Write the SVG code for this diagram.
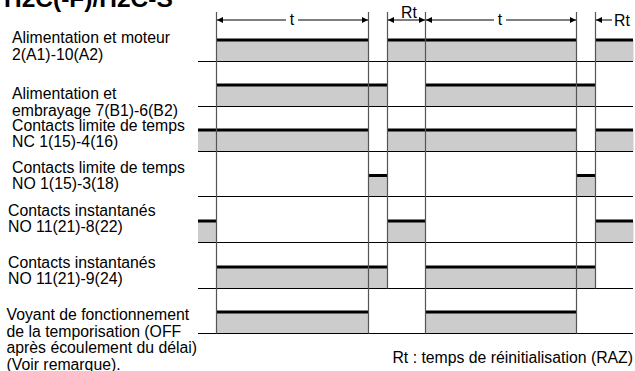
<svg xmlns="http://www.w3.org/2000/svg" width="635" height="371" viewBox="0 0 635 371">
<style>
text{font-family:"Liberation Sans",Arial,Helvetica,sans-serif;fill:#000}
.lbl{font-size:15.8px}
.title{font-size:24.5px;font-weight:bold}
.base{stroke:#000;stroke-width:1.2;fill:none}
.vl{stroke:#555;stroke-width:1.2;fill:none}
.hi{fill:#cccccc;stroke:none}
.top{stroke:#000;stroke-width:3;fill:none}
.dim{stroke:#000;stroke-width:1;fill:none}
</style>
<defs>
<marker id="ah" viewBox="0 0 10 10" refX="10" refY="5" markerWidth="9" markerHeight="6" markerUnits="userSpaceOnUse" orient="auto-start-reverse">
<path d="M0,0 L10,5 L0,10 z" fill="#000"/>
</marker>
</defs>
<rect width="635" height="371" fill="#fff"/>
<text class="title" x="4" y="7">H2C(-F)/H2C-S</text>

<g id="labels">
<g id="lbl1"><text class="lbl" x="12" y="43">Alimentation et moteur</text><text class="lbl" x="12" y="59.5">2(A1)-10(A2)</text></g>
<g id="lbl2"><text class="lbl" x="12" y="99">Alimentation et</text><text class="lbl" x="12" y="115.5">embrayage 7(B1)-6(B2)</text></g>
<g id="lbl3"><text class="lbl" x="12" y="131">Contacts limite de temps</text><text class="lbl" x="12" y="147">NC 1(15)-4(16)</text></g>
<g id="lbl4"><text class="lbl" x="12" y="172.5">Contacts limite de temps</text><text class="lbl" x="12" y="188.5">NO 1(15)-3(18)</text></g>
<g id="lbl5"><text class="lbl" x="8" y="216">Contacts instantanés</text><text class="lbl" x="8" y="232">NO 11(21)-8(22)</text></g>
<g id="lbl6"><text class="lbl" x="8" y="268">Contacts instantanés</text><text class="lbl" x="8" y="284">NO 11(21)-9(24)</text></g>
<g id="lbl7"><text class="lbl" x="6.5" y="319.5">Voyant de fonctionnement</text><text class="lbl" x="6.5" y="336.5">de la temporisation (OFF</text><text class="lbl" x="6.5" y="353">après écoulement du délai)</text><text class="lbl" x="6.5" y="369.5">(Voir remarque).</text></g>
</g>

<g id="signals">
<g id="row1">
<rect class="hi" x="216.5" y="40" width="152" height="21.5"/><rect class="hi" x="387.5" y="40" width="189" height="21.5"/><rect class="hi" x="595.5" y="40" width="38" height="21.5"/>
<path class="top" d="M216.5,40H368.5M387.5,40H576.5M595.5,40H633"/>
<path class="base" d="M198,61.5H633"/>
</g>
<g id="row2">
<rect class="hi" x="216.5" y="85" width="171" height="21.5"/><rect class="hi" x="425.5" y="85" width="170" height="21.5"/>
<path class="top" d="M216.5,85H387.5M425.5,85H595.5"/>
<path class="base" d="M198,106.5H633"/>
</g>
<g id="row3">
<rect class="hi" x="198" y="130" width="170.5" height="21.5"/><rect class="hi" x="387.5" y="130" width="189" height="21.5"/><rect class="hi" x="595.5" y="130" width="38" height="21.5"/>
<path class="top" d="M198,130H368.5M387.5,130H576.5M595.5,130H633"/>
<path class="base" d="M198,151.5H633"/>
</g>
<g id="row4">
<rect class="hi" x="368.5" y="175.5" width="19" height="21"/><rect class="hi" x="576.5" y="175.5" width="19" height="21"/>
<path class="top" d="M368.5,175.5H387.5M576.5,175.5H595.5"/>
<path class="base" d="M198,196.5H633"/>
</g>
<g id="row5">
<rect class="hi" x="198" y="221" width="18.5" height="21.5"/><rect class="hi" x="387.5" y="221" width="38" height="21.5"/><rect class="hi" x="595.5" y="221" width="38" height="21.5"/>
<path class="top" d="M198,221H216.5M387.5,221H425.5M595.5,221H633"/>
<path class="base" d="M198,242.5H633"/>
</g>
<g id="row6">
<rect class="hi" x="216.5" y="267" width="171" height="21.5"/><rect class="hi" x="425.5" y="267" width="170" height="21.5"/>
<path class="top" d="M216.5,267H387.5M425.5,267H595.5"/>
<path class="base" d="M198,288.5H633"/>
</g>
<g id="row7">
<rect class="hi" x="216.5" y="312" width="152" height="21.5"/><rect class="hi" x="425.5" y="312" width="151" height="21.5"/>
<path class="top" d="M216.5,312H368.5M425.5,312H576.5"/>
<path class="base" d="M198,333.5H633"/>
</g>
</g>

<g id="connectors">
<path class="vl" d="M216.5,12V333.5M368.5,12V333.5M387.5,12V288.5M425.5,12V333.5M576.5,12V333.5M595.5,12V288.5"/>
<line class="dim" x1="286" y1="20" x2="217" y2="20" marker-end="url(#ah)"/>
<line class="dim" x1="298" y1="20" x2="368" y2="20" marker-end="url(#ah)"/>
<line class="dim" x1="388" y1="20" x2="425" y2="20" marker-start="url(#ah)" marker-end="url(#ah)"/>
<line class="dim" x1="494" y1="20" x2="426" y2="20" marker-end="url(#ah)"/>
<line class="dim" x1="506" y1="20" x2="576" y2="20" marker-end="url(#ah)"/>
<line class="dim" x1="612" y1="20" x2="596" y2="20" marker-end="url(#ah)"/>
</g>
<g id="dimlabels">
<text class="lbl" x="292" y="24.5" text-anchor="middle">t</text>
<text class="lbl" x="409" y="18" text-anchor="middle">Rt</text>
<text class="lbl" x="500" y="24.5" text-anchor="middle">t</text>
<text class="lbl" x="614" y="25.5">Rt</text>
<text class="lbl" x="633" y="363" text-anchor="end">Rt : temps de réinitialisation (RAZ)</text>
</g>
</svg>
